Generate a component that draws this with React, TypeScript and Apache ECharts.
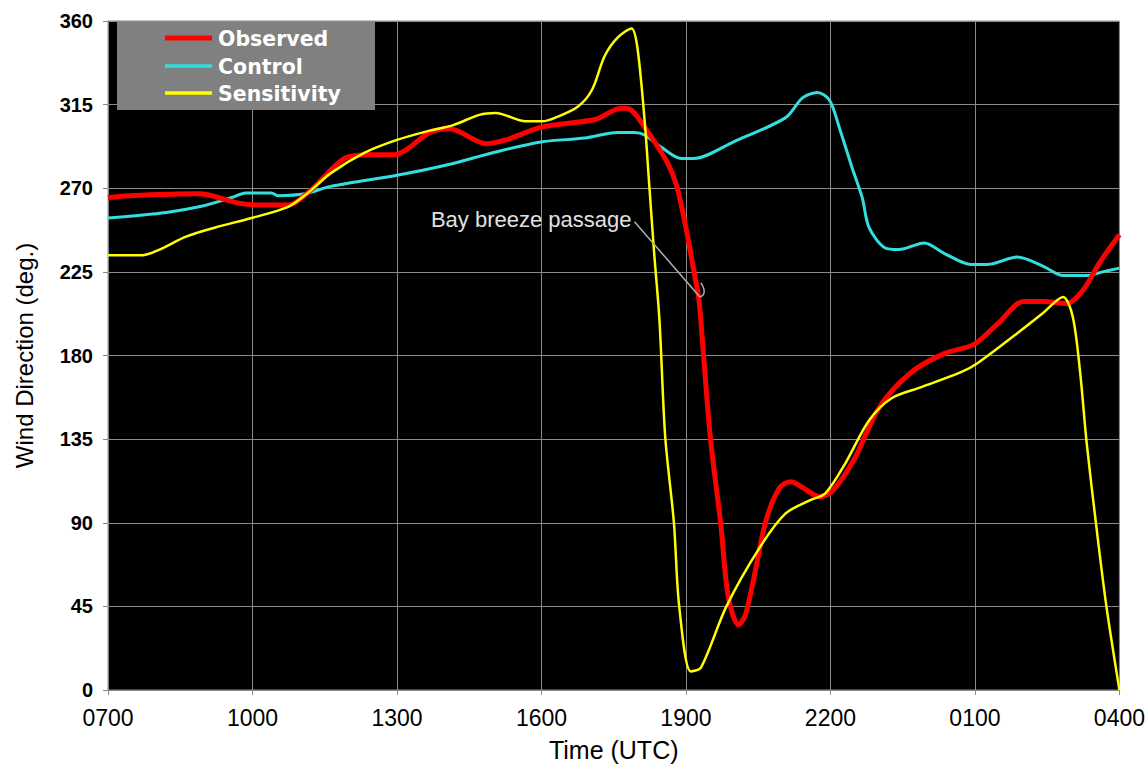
import React, { useEffect, useRef } from "react";
import * as echarts from "echarts";

// Hours after 0700 UTC
const tickLabels = ["0700", "1000", "1300", "1600", "1900", "2200", "0100", "0400"];
const yTicks = [0, 45, 90, 135, 180, 225, 270, 315, 360];

const observedT = [0, 0.45, 1.89, 2.71, 3.12, 3.74, 4.21, 4.91, 5.44, 5.94, 6.21, 6.68, 7.09, 7.85, 8.26, 9.02, 10.11, 10.66, 10.87, 11.14, 11.61, 11.81, 12.02, 12.16, 12.27, 12.35, 12.51, 12.72, 12.88, 13.09, 13.23, 13.4, 13.66, 13.95, 14.18, 14.42, 14.77, 15.04, 15.51, 16.01, 16.68, 17.36, 17.98, 18.47, 19.01, 19.42, 19.91, 20.24, 20.59, 21];
const observedV = [265, 266, 267, 262, 261, 261, 269, 286, 288, 288, 291, 300, 302, 294, 296, 303, 307, 313, 312, 303, 284, 271, 246, 226, 210, 185, 135, 90, 50, 35, 40, 59, 91, 109, 112, 109, 104, 107, 125, 152, 171, 181, 186, 197, 209, 209, 208, 215, 230, 245];

const controlT = [0, 1.21, 1.89, 2.57, 2.86, 3.39, 3.53, 4.09, 4.62, 6.0, 7.03, 8.05, 9.02, 9.9, 10.58, 10.93, 11.14, 11.49, 11.9, 12.16, 12.99, 14.07, 14.42, 14.73, 14.98, 15.18, 15.45, 15.66, 15.8, 16.13, 16.42, 16.95, 17.36, 17.92, 18.27, 18.88, 19.42, 19.83, 20.32, 20.65, 21];
const controlV = [254, 257, 260, 265, 267.5, 267.5, 266, 267, 271, 277, 282.5, 289.5, 295, 297, 300, 300, 298.7, 292, 286, 286, 295, 308, 318.6, 321.5, 317.5, 303, 281, 265, 249, 238, 237, 240.6, 235, 229, 229, 233, 228, 223, 223, 225, 227];

const sensitivityT = [0, 0.72, 1.07, 1.62, 2.24, 2.98, 3.74, 4.15, 4.62, 5.32, 6.0, 6.68, 7.17, 7.71, 8.05, 8.67, 9.02, 9.29, 9.76, 10.05, 10.31, 10.58, 10.87, 10.99, 11.14, 11.24, 11.34, 11.45, 11.57, 11.75, 11.86, 12.1, 12.31, 12.84, 13.54, 14.07, 14.57, 14.9, 15.31, 15.8, 16.27, 16.89, 17.71, 18.06, 18.88, 19.42, 19.83, 20.03, 20.18, 20.32, 20.53, 20.73, 21];
const sensitivityV = [234, 234, 237, 244, 249, 254, 260, 267.5, 278, 289, 296, 301, 304, 309.5, 310.5, 306, 306, 308, 314, 323, 341, 351, 356, 346, 307, 271, 235, 199, 136, 90, 45, 10, 12, 45, 77, 95, 102, 106, 122, 145, 157, 163, 171, 176, 192, 203, 211.5, 201, 172, 133, 86, 45, 0];

const seriesNames = ["Observed", "Control", "Sensitivity"];
const seriesColors = ["#ff0000", "#33dede", "#ffff00"];
const seriesWidths = [5, 3, 2.5];

const annotationText = "Bay breeze passage";
const annotationTextAt = [10.87, 253];
const annotationTipAt = [12.29, 211.5];

const pairs = (t: number[], v: number[]) => t.map((x, i) => [x, v[i]]);

export default function App() {
  const ref = useRef<HTMLDivElement>(null);
  useEffect(() => {
    if (!ref.current) return;
    document.body.style.margin = "0";
    const chart = echarts.init(ref.current, undefined, { renderer: "svg", width: 1148, height: 771 });
    const font = "Liberation Sans";
    const seriesData = [
      pairs(observedT, observedV),
      pairs(controlT, controlV),
      pairs(sensitivityT, sensitivityV),
    ];
    chart.setOption({
      animation: false,
      backgroundColor: "#ffffff",
      grid: {
        left: 108,
        width: 1022,
        top: 21,
        height: 669,
        show: true,
        backgroundColor: "#000000",
        borderColor: "#8a8a8a",
        borderWidth: 1,
      },
      xAxis: {
        type: "value",
        min: 0,
        max: 21,
        interval: 3,
        name: "Time (UTC)",
        nameLocation: "middle",
        nameGap: 47,
        nameTextStyle: { color: "#000", fontSize: 25, fontFamily: font },
        axisLine: { show: true, lineStyle: { color: "#8a8a8a" } },
        axisTick: { show: true, length: 5, lineStyle: { color: "#8a8a8a" } },
        axisLabel: {
          color: "#000",
          fontSize: 23,
          fontFamily: font,
          margin: 16,
          formatter: (v: number) => tickLabels[Math.round(v / 3)] ?? "",
        },
        splitLine: { show: true, lineStyle: { color: "#8a8a8a", width: 1 } },
      },
      yAxis: {
        type: "value",
        min: 0,
        max: 360,
        interval: 45,
        name: "Wind Direction (deg.)",
        nameLocation: "middle",
        nameGap: 72,
        nameTextStyle: { color: "#000", fontSize: 24, fontFamily: font },
        axisLine: { show: true, lineStyle: { color: "#8a8a8a" } },
        axisTick: { show: true, length: 5, lineStyle: { color: "#8a8a8a" } },
        axisLabel: {
          color: "#000",
          fontSize: 20,
          fontWeight: "bold",
          fontFamily: font,
          margin: 15,
          formatter: (v: number) => (yTicks.includes(v) ? String(v) : ""),
        },
        splitLine: { show: true, lineStyle: { color: "#8a8a8a", width: 1 } },
      },
      series: seriesNames.map((name, i) => ({
        name,
        type: "line",
        data: seriesData[i],
        showSymbol: false,
        symbol: "none",
        smooth: 0.3,
        lineStyle: { color: seriesColors[i], width: seriesWidths[i] },
        itemStyle: { color: seriesColors[i] },
        z: [3, 2, 4][i],
      })),
    });
    const p1 = chart.convertToPixel({ gridIndex: 0 }, annotationTextAt) as number[];
    const p2 = chart.convertToPixel({ gridIndex: 0 }, annotationTipAt) as number[];
    const legendRows = [38, 66, 93];
    const legendEls: any[] = [
      {
        type: "rect",
        z: 20,
        shape: { x: 117, y: 22, width: 258, height: 88 },
        style: { fill: "#808080" },
      },
    ];
    seriesNames.forEach((name, i) => {
      legendEls.push({
        type: "line",
        z: 21,
        shape: { x1: 165, y1: legendRows[i], x2: 212, y2: legendRows[i] },
        style: { stroke: seriesColors[i], lineWidth: i === 0 ? 5 : 3.5 },
      });
      legendEls.push({
        type: "text",
        z: 21,
        x: 218,
        y: legendRows[i] + 1,
        style: {
          text: name,
          fill: "#ffffff",
          font: `bold 20.5px "DejaVu Sans"`,
          textAlign: "left",
          textVerticalAlign: "middle",
        },
      });
    });
    chart.setOption({
      graphic: [
        ...legendEls,
        {
          type: "text",
          x: p1[0],
          y: p1[1],
          z: 10,
          style: {
            text: annotationText,
            fill: "#e0e0e0",
            font: `22px ${font}`,
            textAlign: "right",
            textVerticalAlign: "middle",
          },
        },
        {
          type: "line",
          z: 10,
          shape: { x1: p1[0] + 3, y1: p1[1] + 2, x2: p2[0], y2: p2[1] },
          style: { stroke: "#b0b0b0", lineWidth: 1.5 },
        },
        {
          type: "bezierCurve",
          z: 10,
          shape: { x1: p2[0], y1: p2[1], cpx1: p2[0] + 8, cpy1: p2[1] - 3, x2: p2[0] + 1, y2: p2[1] - 14 },
          style: { stroke: "#b0b0b0", lineWidth: 1.5, fill: "none" },
        },
      ],
    });
    return () => chart.dispose();
  }, []);
  return (
    <div
      ref={ref}
      style={{ position: "fixed", left: 0, top: 0, width: 1148, height: 771 }}
    />
  );
}
